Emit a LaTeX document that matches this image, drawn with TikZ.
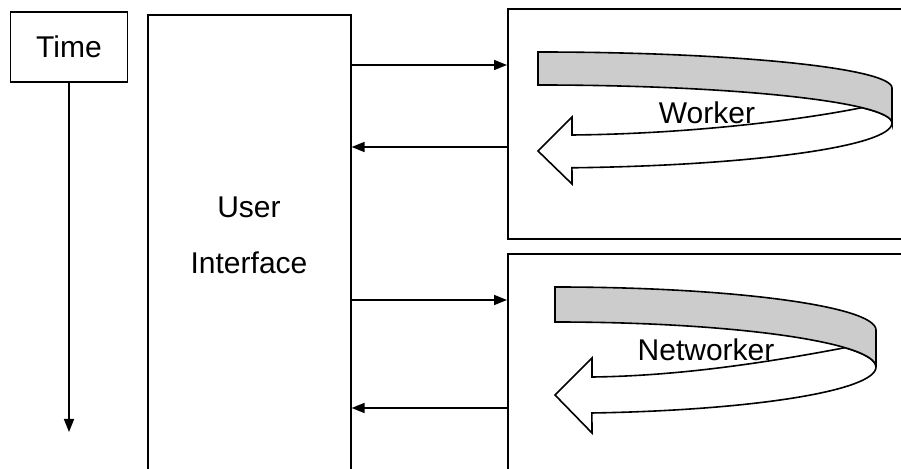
\documentclass[tikz,border=0pt]{standalone}
\usepackage{fontspec}
\setmainfont{Liberation Sans}
\usetikzlibrary{arrows.meta, calc}

\tikzset{
  box/.style={draw, line width=1.6pt, inner sep=0pt},
  msg/.style={-{Triangle[length=13pt,width=10pt]}, line width=1.7pt},
  band/.style={draw, line width=1.6pt, fill=gray!40},
  turn/.style={draw, line width=1.6pt, fill=white},
  lbl/.style={font=\fontsize{30}{56}\selectfont, align=center}
}

\begin{document}
\begin{tikzpicture}[x=1pt, y=1pt]
    \useasboundingbox (0,0) rectangle (901,468);
    \clip (0,0) rectangle (901,468);

    % Time axis
    \node[box, lbl, minimum width=117pt, minimum height=70pt] (time) at (69,421) {Time};
    \coordinate (timeend) at (69,36);
    \draw[msg] (time.south) -- (timeend);

    % User interface
    \node[box, minimum width=203pt, minimum height=470pt, anchor=north west] (ui) at (147,454) {};
    \node[lbl] (uitext) at (249,233) {User\\Interface};

    % Worker and networker panels
    \node[box, minimum width=400pt, minimum height=230pt, anchor=north west] (worker) at (507,460) {};
    \node[box, minimum width=400pt, minimum height=225pt, anchor=north west] (net) at (507,215) {};

    % Messages
    \draw[msg] (ui.east |- 0,403) -- (worker.west |- 0,403);
    \draw[msg] (worker.west |- 0,321) -- (ui.east |- 0,321);
    \draw[msg] (ui.east |- 0,168) -- (net.west |- 0,168);
    \draw[msg] (net.west |- 0,60) -- (ui.east |- 0,60);

    % Worker loop
    \draw[turn] (538,317) -- (572,351) -- (572,333)
        .. controls (680,334) and (790,346) .. ($(538,345)+(23.8:354 and 38)$)
        arc[start angle=23.8, end angle=0, x radius=354pt, y radius=38pt]
        arc[start angle=0, end angle=-84.5, x radius=354pt, y radius=45pt]
        -- (572,284) -- cycle;
    \draw[band] (538,416) arc[start angle=90, end angle=0, x radius=354pt, y radius=36pt]
        -- (892,345) arc[start angle=0, end angle=90, x radius=354pt, y radius=38pt] -- cycle;
    \node[lbl] (worktext) at (707,355) {Worker};

    % Networker loop
    \draw[turn] (555,73) -- (592,110) -- (592,91)
        .. controls (680,92) and (770,106) .. ($(555,101)+(25.4:321 and 45)$)
        arc[start angle=25.4, end angle=0, x radius=321pt, y radius=45pt]
        arc[start angle=0, end angle=-83.4, x radius=321pt, y radius=46.3pt]
        -- (592,35) -- cycle;
    \draw[band] (555,181) arc[start angle=90, end angle=0, x radius=321pt, y radius=43pt]
        -- (876,101) arc[start angle=0, end angle=90, x radius=321pt, y radius=45pt] -- cycle;
    \node[lbl] (nettext) at (706,118) {Networker};
\end{tikzpicture}
\end{document}
